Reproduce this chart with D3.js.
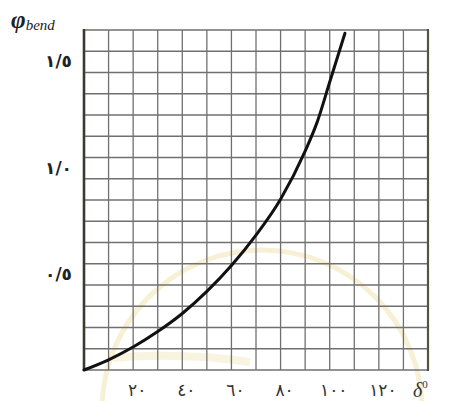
<!DOCTYPE html>
<html>
<head>
<meta charset="utf-8">
<script src="https://cdn.jsdelivr.net/npm/d3@7"></script>
<style>
  body { margin: 0; background: #fff; }
  svg { display: block; }
</style>
</head>
<body>
<figure style="margin:0"></figure>
<script>
const WIDTH = 451
const HEIGHT = 401

// curve: bend angle (deg) -> coefficient
const delta = [0, 10, 20, 30, 40, 50, 60, 70, 80, 90, 95, 100, 106.2]
const phi = [0, 0.048, 0.108, 0.181, 0.266, 0.370, 0.492, 0.635, 0.804, 1.03, 1.17, 1.355, 1.585]

const xTicks = [20, 40, 60, 80, 100, 120]
const xTickLabels = ['٢٠', '٤٠', '٦٠', '٨٠', '١٠٠', '١٢٠']
const yTicks = [0.5, 1.0, 1.5]
const yTickLabels = ['٠/٥', '١/٠', '١/٥']

const x = d3.scaleLinear().domain([0, 140]).range([84, 428])
const y = d3.scaleLinear().domain([0, 1.6]).range([370, 30])

const svg = d3.select('figure').append('svg')
  .attr('width', WIDTH)
  .attr('height', HEIGHT)

// faint watermark behind the grid
const mark = svg.append('g').attr('fill', 'none').attr('stroke', '#f3eac2')
mark.append('circle')
  .attr('cx', 262).attr('cy', 410).attr('r', 160)
  .attr('stroke-width', 5).attr('opacity', 0.7)
mark.append('path')
  .attr('d', 'M113,358 Q180,352 250,362')
  .attr('stroke-width', 8).attr('opacity', 0.5)

// grid
const grid = svg.append('g').attr('stroke', '#707070').attr('stroke-width', 1.3)
grid.selectAll('.vx')
  .data(d3.range(0, 141, 10))
  .join('line')
  .attr('x1', d => x(d)).attr('x2', d => x(d))
  .attr('y1', y(1.6)).attr('y2', y(0))
grid.selectAll('.hy')
  .data(d3.range(0, 17).map(i => i / 10))
  .join('line')
  .attr('x1', x(0)).attr('x2', x(140))
  .attr('y1', d => y(d)).attr('y2', d => y(d))

// heavier frame on left and right
svg.append('line')
  .attr('x1', x(0)).attr('x2', x(0))
  .attr('y1', y(1.6) - 1).attr('y2', y(0) + 1)
  .attr('stroke', '#3a3a30').attr('stroke-width', 2.6)
svg.append('line')
  .attr('x1', x(140)).attr('x2', x(140))
  .attr('y1', y(1.6) - 1).attr('y2', y(0) + 1)
  .attr('stroke', '#55553f').attr('stroke-width', 2.2)

// curve
const line = d3.line()
  .x(d => x(d[0]))
  .y(d => y(d[1]))
  .curve(d3.curveMonotoneX)

svg.append('path')
  .datum(delta.map((d, i) => [d, phi[i]]))
  .attr('d', line)
  .attr('fill', 'none')
  .attr('stroke', '#111')
  .attr('stroke-width', 3)
  .attr('stroke-linecap', 'round')

// tick labels
svg.selectAll('.xl')
  .data(xTicks)
  .join('text')
  .attr('x', d => x(d) + 4)
  .attr('y', 396)
  .attr('text-anchor', 'middle')
  .attr('font-family', 'DejaVu Sans')
  .attr('font-size', 17)
  .attr('fill', '#333')
  .text((d, i) => xTickLabels[i])

svg.selectAll('.yl')
  .data(yTicks)
  .join('text')
  .attr('x', 72)
  .attr('y', d => y(d) + 16)
  .attr('text-anchor', 'end')
  .attr('font-family', 'DejaVu Sans')
  .attr('font-size', 17)
  .attr('font-weight', 'bold')
  .attr('fill', '#222')
  .text((d, i) => yTickLabels[i])

// axis titles
const yTitle = svg.append('text')
  .attr('x', 11).attr('y', 28)
  .attr('font-family', 'Liberation Serif')
  .attr('font-style', 'italic')
  .attr('fill', '#222')
yTitle.append('tspan').attr('font-size', 25).attr('font-weight', 'bold').text('φ')
yTitle.append('tspan').attr('font-size', 15).attr('dy', 2).text('bend')

const xTitle = svg.append('text')
  .attr('x', 413).attr('y', 397)
  .attr('font-family', 'Liberation Serif')
  .attr('font-style', 'italic')
  .attr('fill', '#333')
xTitle.append('tspan').attr('font-size', 20).text('δ')
xTitle.append('tspan').attr('font-size', 11).attr('dy', -9).attr('font-style', 'normal').text('0')
</script>
</body>
</html>
